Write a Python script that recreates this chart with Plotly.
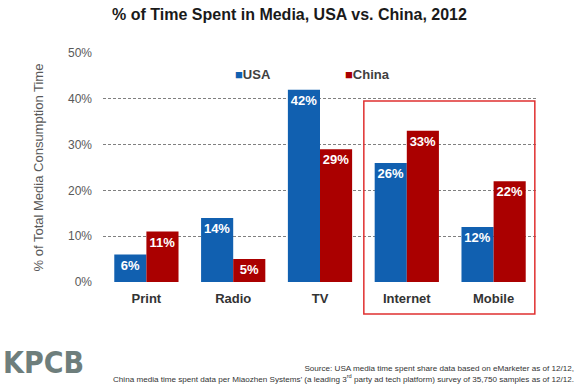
import plotly.graph_objects as go

categories = ["Print", "Radio", "TV", "Internet", "Mobile"]
usa = [6, 14, 42, 26, 12]
china = [11, 5, 29, 33, 22]
y_ticks = [0, 10, 20, 30, 40, 50]
y_tick_labels = ["0%", "10%", "20%", "30%", "40%", "50%"]

FONT = "Liberation Sans, Arial, sans-serif"
USA_COLOR = "#1160b0"
CHINA_COLOR = "#aa0000"

fig = go.Figure()
fig.add_trace(go.Bar(
    name="USA", x=categories, y=usa,
    marker=dict(color=USA_COLOR, line=dict(width=0)),
    text=[f"{v}%" for v in usa], textposition="inside", insidetextanchor="end",
    textangle=0,
    textfont=dict(family=FONT, size=13, color="white", weight="bold"),
    constraintext="none",
))
fig.add_trace(go.Bar(
    name="China", x=categories, y=china,
    marker=dict(color=CHINA_COLOR, line=dict(width=0)),
    text=[f"{v}%" for v in china], textposition="inside", insidetextanchor="end",
    textangle=0,
    textfont=dict(family=FONT, size=13, color="white", weight="bold"),
    constraintext="none",
))

fig.update_layout(
    width=579, height=387,
    margin=dict(l=103, r=42, t=53, b=105),
    paper_bgcolor="white", plot_bgcolor="white",
    barmode="group", bargap=0.26, bargroupgap=0,
    font=dict(family=FONT, color="#404040"),
    title=dict(text="<b>% of Time Spent in Media, USA vs. China, 2012</b>",
               x=0.5, xanchor="center", y=0.963, yanchor="middle",
               font=dict(size=16, color="#1a1a1a", family=FONT)),
    showlegend=False,
    xaxis=dict(showline=False, ticks="", showgrid=False, ticklabelstandoff=7,
               tickfont=dict(size=13, color="#333333", weight="bold", family=FONT)),
    yaxis=dict(range=[0, 50], tickvals=y_ticks, ticktext=y_tick_labels,
               showgrid=True, gridcolor="#808080", griddash="3px,2px", gridwidth=1,
               zeroline=False, showline=False, ticks="", ticklen=0,
               ticklabelstandoff=10,
               tickfont=dict(size=12, color="#595959", family=FONT),
               title=dict(text="% of Total Media Consumption Time", standoff=21,
                          font=dict(size=13, color="#595959", family=FONT))),
)

# legend (drawn as text so that the marker/text spacing matches)
for name, color, xp in [("USA", USA_COLOR, 0.30), ("China", CHINA_COLOR, 0.553)]:
    fig.add_annotation(xref="paper", yref="paper", x=xp, y=0.905,
                       xanchor="left", yanchor="middle", showarrow=False,
                       text=f"<span style='color:{color}'>■</span><b>{name}</b>",
                       font=dict(family=FONT, size=13, color="#404040"))

fig.add_shape(type="rect", xref="paper", yref="paper",
              x0=0.601, x1=0.995, y0=-0.14, y1=0.79,
              line=dict(color="#e03030", width=1.5), fillcolor="rgba(0,0,0,0)")

fig.add_annotation(xref="paper", yref="paper", x=-0.234, y=-0.35,
                   xanchor="left", yanchor="middle", showarrow=False,
                   text="<b>KPCB</b>",
                   font=dict(family="DejaVu Sans Condensed, sans-serif",
                             size=30, color="#6e7e7c"))
fig.add_annotation(xref="paper", yref="paper", x=1.09, y=-0.40,
                   xanchor="right", yanchor="middle", showarrow=False, align="right",
                   text="Source: USA media time spent share data based on eMarketer as of 12/12,<br>"
                        "China media time spent data per Miaozhen Systems’ (a leading 3<sup>rd</sup> party ad tech platform) survey of 35,750 samples as of 12/12.",
                   font=dict(family=FONT, size=8.1, color="#333333"))

fig.write_html("out.html", config={"displayModeBar": False},
               post_script="document.body.style.margin='0';")
